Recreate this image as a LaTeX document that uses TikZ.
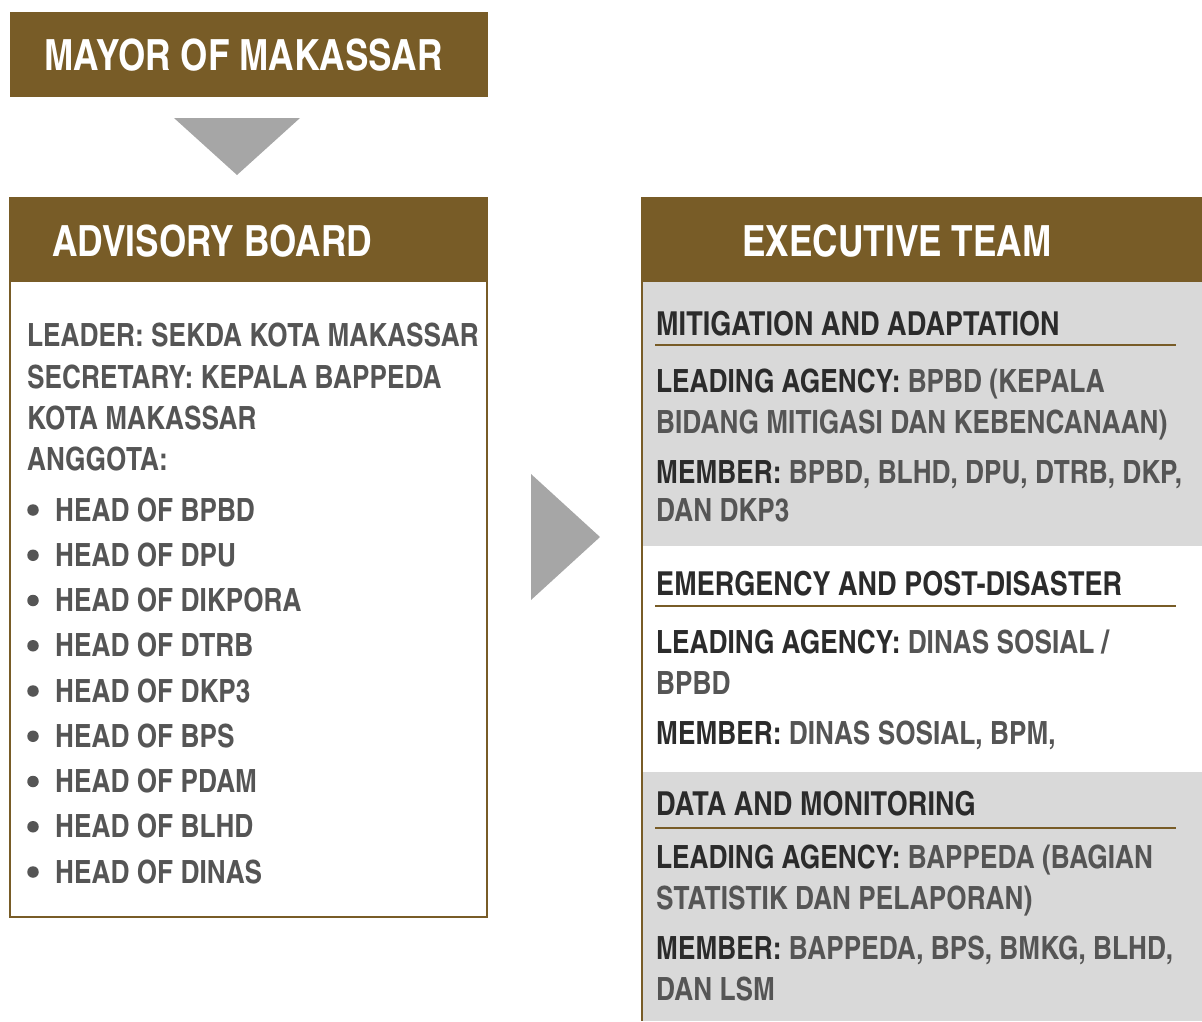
\documentclass[tikz,border=0pt]{standalone}
\usepackage{fontspec}
\newfontfamily\cnfont{texgyreheroscn-bold.otf}
\newcommand\hdrfont{\cnfont\fontsize{43}{47}\selectfont}
\newcommand\bodyfont{\cnfont\fontsize{32}{36}\selectfont}
\newcommand\secfont{\cnfont\fontsize{33}{37}\selectfont}
\definecolor{brown}{RGB}{120,92,39}
\definecolor{arrowgray}{RGB}{166,166,166}
\definecolor{secgray}{RGB}{217,217,217}
\definecolor{labc}{RGB}{43,43,43}
\definecolor{valc}{RGB}{85,85,85}
\tikzset{
  hdrtext/.style={anchor=base west, inner sep=0, text=white, font=\hdrfont},
  bodytext/.style={anchor=base west, inner sep=0, text=valc, font=\bodyfont},
  labtext/.style={anchor=base west, inner sep=0, text=labc, font=\secfont},
  uline/.style={draw=brown, line width=2pt},
  bul/.style={circle, fill=valc, inner sep=0, minimum size=11.5pt},
}
\newcommand\lab[1]{{\color{labc}#1}}
\begin{document}
\begin{tikzpicture}[x=1pt,y=-1pt]
\useasboundingbox (0,0) rectangle (1202,1021);
% Mayor
\fill[brown] (10,12) rectangle (488,97);
\node[hdrtext] (mayor) at (44,70) {MAYOR OF MAKASSAR};
\fill[arrowgray] (174,118) -- (300,118) -- (237,175) -- cycle;
% Advisory board
\fill[brown] (9,197) rectangle (488,282);
\draw[brown, line width=2pt] (10,282) -- (10,917) -- (487,917) -- (487,282);
\node[hdrtext] (adv) at (52,256) {ADVISORY BOARD};
\node[bodytext] (l1) at (27,346) {LEADER: SEKDA KOTA MAKASSAR};
\node[bodytext] (l2) at (27,388) {SECRETARY: KEPALA BAPPEDA};
\node[bodytext] (l3) at (27,429) {KOTA MAKASSAR};
\node[bodytext] (l4) at (27,470) {ANGGOTA:};
\foreach \t [count=\i] in {BPBD,DPU,DIKPORA,DTRB,DKP3,BPS,PDAM,BLHD,DINAS}{
  \pgfmathsetmacro\yy{521+45.25*(\i-1)}
  \node[bul] (b\i) at (33,\yy-11) {};
  \node[bodytext] (h\i) at (55,\yy) {HEAD OF \t};
}
\fill[arrowgray] (531,474) -- (600,537) -- (531,600) -- cycle;
% Executive team
\fill[secgray] (641,282) rectangle (1202,546);
\fill[secgray] (641,772) rectangle (1202,1021);
\fill[brown] (641,197) rectangle (1202,282);
\draw[brown, line width=2pt] (642,282) -- (642,1021);
\node[hdrtext, anchor=base] (exec) at (897,256) {EXECUTIVE TEAM};
% section 1
\node[labtext] (s1) at (656,335) {MITIGATION AND ADAPTATION};
\draw[uline] (655,345) -- (1176,345);
\node[bodytext] (s1a) at (656,392) {\lab{LEADING AGENCY:} BPBD (KEPALA};
\node[bodytext] (s1b) at (656,433) {BIDANG MITIGASI DAN KEBENCANAAN)};
\node[bodytext] (s1c) at (656,483) {\lab{MEMBER:} BPBD, BLHD, DPU, DTRB, DKP,};
\node[bodytext] (s1d) at (656,521) {DAN DKP3};
% section 2
\node[labtext] (s2) at (656,595) {EMERGENCY AND POST-DISASTER};
\draw[uline] (655,606) -- (1176,606);
\node[bodytext] (s2a) at (656,653) {\lab{LEADING AGENCY:} DINAS SOSIAL /};
\node[bodytext] (s2b) at (656,694) {BPBD};
\node[bodytext] (s2c) at (656,744) {\lab{MEMBER:} DINAS SOSIAL, BPM,};
% section 3
\node[labtext] (s3) at (656,815) {DATA AND MONITORING};
\draw[uline] (655,828) -- (1176,828);
\node[bodytext] (s3a) at (656,868) {\lab{LEADING AGENCY:} BAPPEDA (BAGIAN};
\node[bodytext] (s3b) at (656,909) {STATISTIK DAN PELAPORAN)};
\node[bodytext] (s3c) at (656,959) {\lab{MEMBER:} BAPPEDA, BPS, BMKG, BLHD,};
\node[bodytext] (s3d) at (656,1000) {DAN LSM};
\end{tikzpicture}
\end{document}
